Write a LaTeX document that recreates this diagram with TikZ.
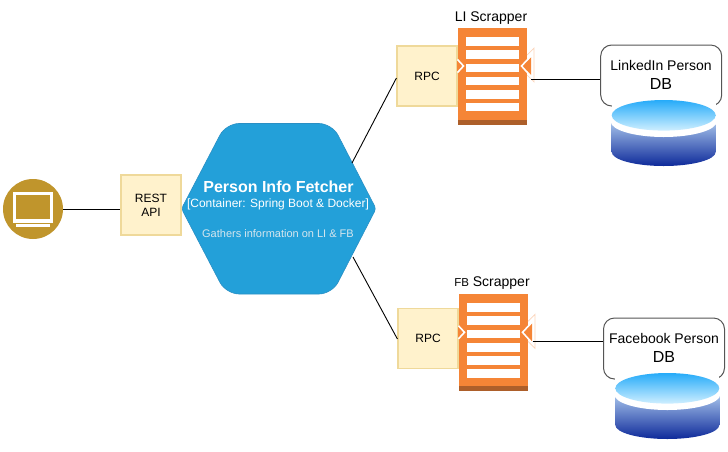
\documentclass[tikz,border=0pt]{standalone}
\usepackage{fontspec}
\setmainfont{Liberation Sans}
\definecolor{apibg}{HTML}{FFF2CC}
\definecolor{apiedge}{HTML}{EFD99A}
\definecolor{hexfill}{HTML}{23A0D9}
\definecolor{hexedge}{HTML}{2A8FC4}
\definecolor{scrap}{HTML}{F58536}
\definecolor{scrapdark}{HTML}{AD5F2A}
\definecolor{gold}{HTML}{C0952C}
\definecolor{bubble}{HTML}{555555}
\definecolor{dbtop}{HTML}{26ABF9}
\definecolor{dbtopb}{HTML}{CFEFFF}
\definecolor{dbbody}{HTML}{A5C2EA}
\definecolor{dbbodyb}{HTML}{0E2A9A}
\definecolor{subtxt}{HTML}{D5E6EE}
\tikzset{
  apibox/.style={draw=apiedge,fill=apibg,line width=1.2pt,minimum width=60pt,minimum height=60pt,inner sep=0pt,align=center,font=\fontsize{12}{14}\selectfont},
  link/.style={draw=black,line width=0.9pt},
  bubblebox/.style={draw=bubble,fill=white,line width=1pt,rounded corners=11pt,minimum width=121pt,minimum height=61pt,inner sep=0pt},
  title/.style={inner sep=0pt,font=\fontsize{14}{16}\selectfont},
  dbname/.style={inner sep=0pt,align=center},
  rowbar/.style={fill=white,draw=none}
}
% #1 x of orange left, #2 y of orange top
\newcommand{\scrapperbody}[2]{%
  \begin{scope}[shift={(#1,#2)}]
    \fill[scrap] (0,0) rectangle (69,96.5);
    \fill[scrapdark] (0,92) rectangle (69,96.5);
    \foreach \yy in {9,22,35.5,48.8,62,74.8}
      \fill[rowbar] (8,\yy) rectangle (61,\yy+8.6);
    % left port
    \fill[scrap] (-1,32) -- (4,38) -- (-1,44) -- cycle;
    \draw[white,line width=1.6pt] (-0.5,31.5) -- (5.5,38) -- (-0.5,44.5);
    % right port
    \draw[scrap!35!white,line width=0.7pt] (69,27) -- (76,20) -- (76,54) -- (69,47);
    \fill[scrap] (73,29) -- (73,47) -- (64,38) -- cycle;
    \draw[white,line width=1.6pt] (72.5,28.5) -- (63.5,38) -- (72.5,48);
  \end{scope}}
\newcommand{\cylinder}[2]{%
  \begin{scope}[shift={(#1,#2)}]
    \fill[white] (-52,-0.5) rectangle (52,22);
    \begin{scope}
      \clip (-52,22) -- (-52,52) arc[x radius=52,y radius=14,start angle=180,end angle=0] -- (52,22) -- cycle;
      \shade[top color=dbbody,bottom color=dbbodyb] (-52,22) rectangle (52,66);
    \end{scope}
    \fill[white] (0,21.5) ellipse[x radius=53,y radius=15.5];
    \begin{scope}
      \clip (0,15.3) ellipse[x radius=52,y radius=15.3];
      \shade[top color=dbtop,bottom color=dbtopb] (-52,0) rectangle (52,30.6);
    \end{scope}
  \end{scope}}
\begin{document}
\begin{tikzpicture}[x=1pt,y=-1pt]
\useasboundingbox (0,0) rectangle (728,451);

% client
\node[circle,fill=gold,minimum size=60pt,inner sep=0pt] (client) at (33,209) {};
\fill[white] (12.7,191.7) rectangle (52.7,222.7);
\fill[gold] (16,194.5) rectangle (50,218.5);
\fill[white] (16,224.2) rectangle (50,226.8);

% api
\node[apibox] (rest) at (151,205) {REST\\API};

% hexagon
\draw[hexedge,fill=hexfill,line width=0.6pt]
  [rounded corners=3pt] (181.5,208.7)
  [rounded corners=13pt] -- (226,123.5) -- (332,123.5)
  [rounded corners=3pt] -- (376,208.7)
  [rounded corners=13pt] -- (332,294) -- (226,294)
  [rounded corners=3pt] -- cycle;
\coordinate (hexup) at (352,163);
\coordinate (hexdown) at (353,257);
\node[inner sep=0pt,text=white,font=\fontsize{16}{18}\bfseries\selectfont] (hexa) at (278.5,187) {Person Info Fetcher};
\node[inner sep=0pt,text=white,font=\fontsize{12}{14}\selectfont] (hexb) at (278,204) {[Container: Spring Boot \& Docker]};
\node[inner sep=0pt,text=subtxt,font=\fontsize{11}{14}\selectfont] (hexc) at (278,233.5) {Gathers information on LI \& FB};

% LI
\node[apibox] (rpca) at (427,76) {RPC};
\scrapperbody{458}{28}
\node[title] (lit) at (491,18.5) {LI Scrapper};
\coordinate (liport) at (531,79);
\node[bubblebox] (lidb) at (661.2,75.5) {};
\cylinder{663.7}{100}
\node[dbname,font=\fontsize{14}{16}\selectfont] (liname) at (661,65.5) {LinkedIn Person};
\node[dbname,font=\fontsize{16}{18}\selectfont] (lidbt) at (661,83.5) {DB};

% FB
\node[apibox] (rpcb) at (428,338.5) {RPC};
\scrapperbody{459}{294.3}
\node[inner sep=0pt,font=\fontsize{14}{16}\selectfont] (fbt) at (492,283) {{\fontsize{11.5}{14}\selectfont FB} Scrapper};
\coordinate (fbport) at (532.5,341.5);
\node[bubblebox] (fbdb) at (664,348.5) {};
\cylinder{667.3}{373}
\node[dbname,font=\fontsize{14}{16}\selectfont] (fbname) at (664,338.5) {Facebook Person};
\node[dbname,font=\fontsize{16}{18}\selectfont] (fbdbt) at (664,356.5) {DB};

% connectors
\draw[link] (client.east) -- (client.east -| rest.west);
\draw[link] (hexup) -- (rpca.west |- 0,78);
\draw[link] (hexdown) -- (rpcb.west |- 0,339);
\draw[link] (liport) -- (liport -| lidb.west);
\draw[link] (fbport) -- (fbport -| fbdb.west);
\end{tikzpicture}
\end{document}
